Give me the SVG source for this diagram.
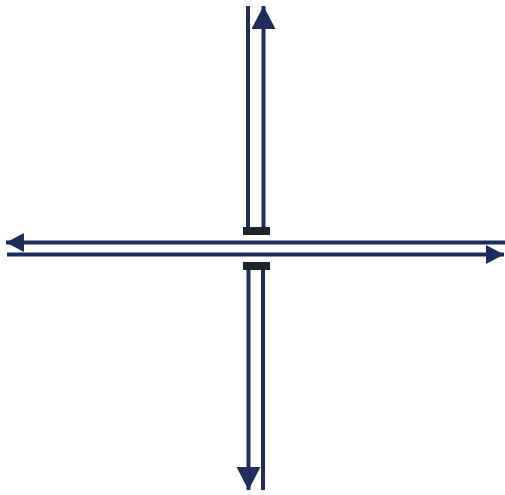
<svg xmlns="http://www.w3.org/2000/svg" width="505" height="495" viewBox="0 0 505 495">
<style>
.ln{stroke:#1e2d5c;stroke-width:4;fill:none}
.bar{fill:#1f2428}
</style>
<defs>
<marker id="av" viewBox="0 0 23 24" refX="23" refY="12" markerWidth="23" markerHeight="24" markerUnits="userSpaceOnUse" orient="auto">
<path d="M0,0 L23,12 L0,24 z" fill="#1e2d5c"/>
</marker>
<marker id="ah" viewBox="0 0 18 19" refX="18" refY="9.5" markerWidth="18" markerHeight="19" markerUnits="userSpaceOnUse" orient="auto">
<path d="M0,0 L18,9.5 L0,19 z" fill="#1e2d5c"/>
</marker>
</defs>
<rect width="505" height="495" fill="#ffffff"/>
<g id="connectors">
<line class="ln" x1="248" y1="6" x2="248" y2="228"/>
<line class="ln" x1="263.5" y1="228" x2="263.5" y2="6" marker-end="url(#av)"/>
<line class="ln" x1="248.5" y1="270" x2="248.5" y2="490" marker-end="url(#av)"/>
<line class="ln" x1="263" y1="270" x2="263" y2="490"/>
<line class="ln" x1="505" y1="242.5" x2="6" y2="242.5" marker-end="url(#ah)"/>
<line class="ln" x1="7" y1="254.5" x2="504" y2="254.5" marker-end="url(#ah)"/>
</g>
<g id="bar-top"><rect class="bar" x="243" y="227" width="27" height="8"/></g>
<g id="bar-bottom"><rect class="bar" x="243" y="262" width="27" height="8"/></g>
</svg>
